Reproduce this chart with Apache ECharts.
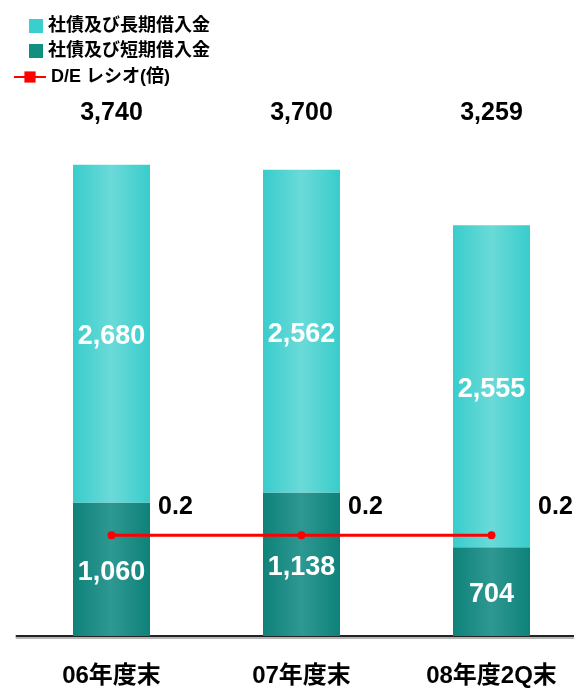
<!DOCTYPE html>
<html>
<head>
<meta charset="utf-8">
<script src="https://cdn.jsdelivr.net/npm/echarts@6/dist/echarts.min.js"></script>
<style>
  html, body { margin: 0; padding: 0; background: #fff; }
  #chart { width: 574px; height: 691px; }
</style>
</head>
<body>
<div id="chart"></div>
<script>
const categories = ['06年度末', '07年度末', '08年度2Q末'];
const longTermDebt = [2680, 2562, 2555];
const shortTermDebt = [1060, 1138, 704];
const deRatio = [0.2, 0.2, 0.2];

const totals = categories.map((_, i) => longTermDebt[i] + shortTermDebt[i]);

const FONT = '"Liberation Sans", "Noto Sans CJK JP", sans-serif';
const fmt = (v) => Number(v).toLocaleString('en-US');

const barGradient = (edge, mid) => new echarts.graphic.LinearGradient(0, 0, 1, 0, [
  { offset: 0, color: edge },
  { offset: 0.5, color: mid },
  { offset: 1, color: edge },
]);

const chart = echarts.init(document.getElementById('chart'), null, { renderer: 'canvas' });

const segmentLabel = {
  show: true,
  position: 'inside',
  offset: [0, 3],
  formatter: (p) => fmt(p.value),
  color: '#fff',
  fontSize: 27,
  fontWeight: 'bold',
  fontFamily: FONT,
};

const option = {
  backgroundColor: '#fff',
  animation: false,
  textStyle: { fontFamily: FONT },
  legend: [
    {
      orient: 'vertical',
      left: 24,
      top: 12,
      itemWidth: 14,
      itemHeight: 14,
      itemGap: 7,
      itemTextGap: 4,
      textStyle: { fontSize: 18, fontWeight: 'bold', color: '#000', fontFamily: FONT },
      data: [
        { name: '社債及び長期借入金', icon: 'rect', itemStyle: { color: '#3acfcf' } },
        { name: '社債及び短期借入金', icon: 'rect', itemStyle: { color: '#119080' } },
      ],
    },
    {
      orient: 'vertical',
      left: 8,
      top: 63,
      itemWidth: 32,
      itemHeight: 14,
      itemTextGap: 8,
      textStyle: { fontSize: 18, fontWeight: 'bold', color: '#000', fontFamily: FONT },
      data: ['D/E レシオ(倍)'],
    },
  ],
  // plot area runs past the right edge, like the original
  grid: { left: 16.5, width: 570, top: 132, bottom: 55, outerBoundsMode: 'none', containLabel: false },
  xAxis: [
    {
      type: 'category',
      data: categories,
      axisTick: { show: false },
      axisLine: {
        lineStyle: { color: '#222', width: 2, shadowColor: '#b5b5b5', shadowOffsetY: 2, shadowBlur: 0 },
      },
      axisLabel: { margin: 28, fontSize: 24, fontWeight: 'bold', color: '#000', fontFamily: FONT },
    },
    {
      type: 'category',
      position: 'top',
      data: totals.map(fmt),
      axisTick: { show: false },
      axisLine: { show: false },
      axisLabel: { margin: 6, fontSize: 25, fontWeight: 'bold', color: '#000', fontFamily: FONT },
    },
  ],
  yAxis: [
    { type: 'value', min: 0, max: 4000, show: false, splitLine: { show: false } },
    { type: 'value', min: 0, max: 1, show: false, splitLine: { show: false } },
  ],
  series: [
    {
      name: '社債及び短期借入金',
      type: 'bar',
      stack: 'debt',
      barWidth: 77,
      data: shortTermDebt,
      itemStyle: { color: barGradient('#0e8279', '#2e9892') },
      label: segmentLabel,
    },
    {
      name: '社債及び長期借入金',
      type: 'bar',
      stack: 'debt',
      barWidth: 77,
      data: longTermDebt,
      itemStyle: { color: barGradient('#38cdcb', '#6bdad8') },
      label: segmentLabel,
    },
    {
      name: 'D/E レシオ(倍)',
      type: 'line',
      yAxisIndex: 1,
      symbol: 'rect',
      data: deRatio.map((v) => ({ value: v, symbol: 'circle', symbolSize: 8 })),
      lineStyle: { color: '#ff0000', width: 3 },
      itemStyle: { color: '#ff0000' },
      label: {
        show: true,
        position: 'inside',
        offset: [64, -28],
        formatter: (p) => p.value.toFixed(1),
        color: '#000',
        fontSize: 25,
        fontWeight: 'bold',
        fontFamily: FONT,
      },
    },
  ],
};

chart.setOption(option);
</script>
</body>
</html>
